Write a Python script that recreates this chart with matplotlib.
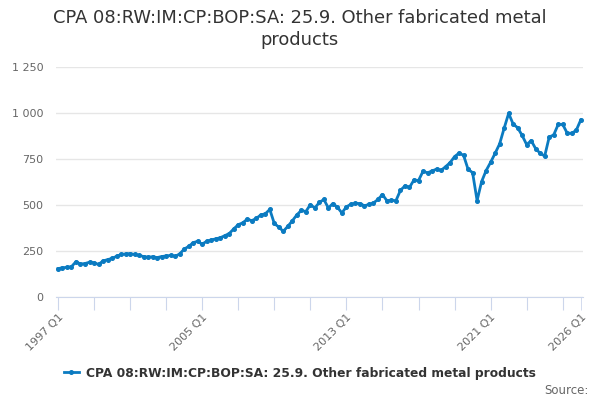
import matplotlib
matplotlib.use("Agg")
import matplotlib.pyplot as plt
from matplotlib.lines import Line2D

title = "CPA 08:RW:IM:CP:BOP:SA: 25.9. Other fabricated metal\nproducts"
series_name = "CPA 08:RW:IM:CP:BOP:SA: 25.9. Other fabricated metal products"

start_year = 1997
values = [
    154, 159, 161, 165, 192, 179, 182, 189, 186, 177, 196, 203, 210, 221, 231, 234,
    236, 231, 226, 220, 216, 219, 214, 220, 223, 226, 221, 234, 260, 275, 295, 303,
    287, 303, 310, 316, 322, 333, 345, 370, 393, 403, 423, 415, 427, 446, 452, 476,
    400, 380, 357, 384, 414, 446, 471, 464, 502, 484, 514, 530, 484, 508, 488, 457,
    490, 504, 509, 508, 496, 503, 511, 530, 557, 523, 525, 524, 580, 604, 596, 636,
    633, 683, 675, 685, 695, 688, 708, 730, 763, 782, 770, 694, 676, 524, 627, 687,
    732, 781, 832, 917, 998, 940, 920, 878, 828, 850, 806, 781, 766, 869, 881, 938,
    938, 890, 890, 906, 962,
]
labels = [f"{start_year + i // 4} Q{i % 4 + 1}" for i in range(len(values))]
label_idx = [0, 32, 64, 96, 116]
y_ticks = [0, 250, 500, 750, 1000, 1250]
y_tick_labels = ["0", "250", "500", "750", "1 000", "1 250"]

color = "#0b7bc1"
fig = plt.figure(figsize=(6, 4), dpi=100)
ax = fig.add_axes([55.7 / 600, 1 - 297 / 400, (583 - 55.7) / 600, (297 - 67) / 400])
x = list(range(len(values)))
ax.plot(x, values, color=color, lw=2, marker="o", ms=2.6, zorder=3, clip_on=False)

ax.set_xlim(-0.5, len(values) - 0.5)
ax.set_ylim(0, 1250)
ax.set_yticks(y_ticks)
ax.set_yticklabels(y_tick_labels, color="#666666", fontsize=8)
ax.grid(axis="y", color="#e6e6e6", lw=1)
ax.set_axisbelow(True)
ax.tick_params(axis="y", length=0, pad=9)

ax.set_xticks(list(range(0, len(values), 8)), minor=False)
ax.set_xticklabels([labels[i] if i in label_idx else "" for i in range(0, len(values), 8)])
ax.set_xticks([116], minor=True)
ax.set_xticklabels([labels[116]], minor=True)
ax.tick_params(axis="x", which="both", length=9, color="#ccd6eb", labelcolor="#666666",
               labelsize=8, pad=2)
for lab in ax.get_xticklabels(which="both"):
    lab.set_rotation(45)
    lab.set_ha("right")
    lab.set_rotation_mode("anchor")

for s in ["top", "right", "left"]:
    ax.spines[s].set_visible(False)
ax.spines["bottom"].set_color("#ccd6eb")

fig.text(0.5, 1 - 29 / 400, title, ha="center", va="center", fontsize=12.9,
         color="#333333", linespacing=1.25)

handle = Line2D([], [], color=color, lw=2, marker="o", ms=2.6)
fig.legend([handle], [series_name], loc="center", bbox_to_anchor=(0.5, 1 - 373 / 400),
           frameon=False, prop={"weight": "bold", "size": 8.8}, handlelength=1.2,
           handletextpad=0.6, labelcolor="#333333")
fig.text(589 / 600, 1 - 391 / 400, "Source:", ha="right", va="center", fontsize=8.5,
         color="#666666")

fig.savefig("out.png", dpi=100)
